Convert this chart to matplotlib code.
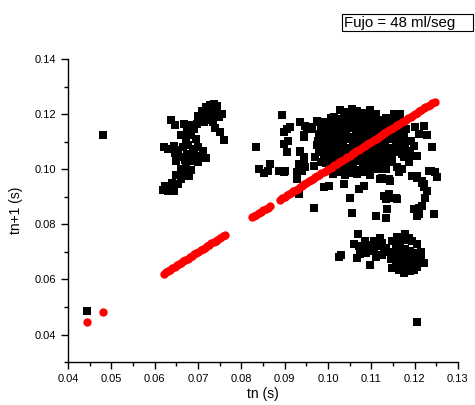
import matplotlib
matplotlib.use("Agg")
import matplotlib.pyplot as plt
from matplotlib.patches import Rectangle
from matplotlib.ticker import MultipleLocator, FormatStrFormatter

plt.rcParams['font.family'] = ['Liberation Sans', 'DejaVu Sans']

# return map: black squares = (tn, tn+1)
outlier_tn = [0.0481, 0.0445, 0.1206]
outlier_tn1 = [0.1126, 0.0484, 0.0447]

left_tn = [0.0700, 0.0710, 0.0718, 0.0728, 0.0738, 0.0745, 0.0735, 0.0722, 0.0712, 0.0730,
           0.0742, 0.0748, 0.0725, 0.0715, 0.0705, 0.0735, 0.0698, 0.0755, 0.0740, 0.0752,
           0.0760, 0.0637, 0.0648, 0.0668, 0.0680, 0.0690, 0.0675, 0.0660, 0.0685, 0.0695,
           0.0672, 0.0622, 0.0632, 0.0645, 0.0655, 0.0665, 0.0678, 0.0690, 0.0700, 0.0712,
           0.0688, 0.0675, 0.0660, 0.0648, 0.0670, 0.0695, 0.0705, 0.0718, 0.0685, 0.0700,
           0.0650, 0.0660, 0.0672, 0.0685, 0.0668, 0.0680, 0.0660, 0.0650, 0.0625, 0.0620,
           0.0632, 0.0645, 0.0640, 0.0655]
left_tn1 = [0.1195, 0.1210, 0.1225, 0.1232, 0.1238, 0.1228, 0.1215, 0.1205, 0.1190, 0.1195,
            0.1205, 0.1190, 0.1180, 0.1172, 0.1178, 0.1170, 0.1165, 0.1200, 0.1150, 0.1135,
            0.1108, 0.1180, 0.1160, 0.1165, 0.1160, 0.1145, 0.1140, 0.1125, 0.1125, 0.1110,
            0.1110, 0.1080, 0.1075, 0.1085, 0.1070, 0.1080, 0.1090, 0.1075, 0.1080, 0.1068,
            0.1060, 0.1055, 0.1045, 0.1060, 0.1035, 0.1045, 0.1050, 0.1040, 0.1030, 0.1025,
            0.1030, 0.1000, 0.1010, 0.0998, 0.0985, 0.0975, 0.0965, 0.0980, 0.0940, 0.0925,
            0.0920, 0.0920, 0.0950, 0.0948]

edge_tn = [0.0894, 0.0906, 0.0913, 0.0898, 0.0936, 0.0909, 0.0944, 0.0898, 0.0906, 0.0936,
           0.0944, 0.0894, 0.0902, 0.0929, 0.0940, 0.0929, 0.0933, 0.0967, 0.0990, 0.1002,
           0.1037, 0.1052, 0.1071, 0.1083, 0.1056, 0.1110, 0.1133, 0.1137, 0.1129, 0.1144,
           0.1160, 0.1121, 0.1137, 0.1144, 0.1202, 0.1210, 0.1206, 0.1244, 0.1206, 0.1218,
           0.1221, 0.1229, 0.1225, 0.1233, 0.1252, 0.1241, 0.1202, 0.1221, 0.1210, 0.1191,
           0.1198, 0.1183, 0.1175, 0.1191, 0.1164, 0.1160, 0.1167, 0.1152, 0.1056, 0.1098,
           0.1075, 0.1094, 0.1029, 0.1013, 0.1033, 0.0998, 0.0979, 0.0963, 0.0948, 0.0952,
           0.0944, 0.0963, 0.0975, 0.0936, 0.0944, 0.0933, 0.0948, 0.0971, 0.0967, 0.0983,
           0.0990, 0.1002, 0.0886, 0.0835, 0.0840, 0.0852, 0.0862, 0.0867, 0.0898, 0.1164,
           0.1229, 0.1179, 0.1190, 0.1206, 0.1171, 0.1187, 0.1140, 0.1148, 0.1164, 0.1133,
           0.1237, 0.1248, 0.1110, 0.1094, 0.1079, 0.1125, 0.1140, 0.1171, 0.1194, 0.1206,
           0.1218, 0.1221, 0.1140, 0.1156, 0.1133, 0.1198, 0.1218, 0.1210]
edge_tn1 = [0.1196, 0.1147, 0.1153, 0.1135, 0.1171, 0.1104, 0.1123, 0.1092, 0.1062, 0.1068,
            0.1031, 0.0995, 0.0995, 0.0989, 0.0995, 0.0965, 0.0910, 0.0861, 0.0934, 0.0940,
            0.0946, 0.0897, 0.0928, 0.0940, 0.0843, 0.0831, 0.0824, 0.0855, 0.0904, 0.0897,
            0.0892, 0.0965, 0.0965, 0.0958, 0.0855, 0.0861, 0.0831, 0.0837, 0.0977, 0.0958,
            0.0946, 0.0922, 0.0897, 0.0995, 0.0971, 0.1080, 0.1153, 0.1159, 0.1129, 0.1104,
            0.1086, 0.1062, 0.1043, 0.1050, 0.1068, 0.1007, 0.1202, 0.1202, 0.1220, 0.1214,
            0.1202, 0.1202, 0.1214, 0.1189, 0.1184, 0.1171, 0.1171, 0.1153, 0.1159, 0.1153,
            0.1116, 0.1147, 0.1177, 0.1062, 0.1043, 0.1019, 0.1007, 0.1043, 0.1013, 0.1025,
            0.1068, 0.1074, 0.0995, 0.1080, 0.1000, 0.0985, 0.0995, 0.1019, 0.0989, 0.1189,
            0.1123, 0.1092, 0.1068, 0.1050, 0.1056, 0.1025, 0.1050, 0.1025, 0.0989, 0.1001,
            0.0995, 0.0989, 0.1001, 0.1013, 0.0995, 0.0970, 0.0965, 0.1001, 0.0977, 0.0970,
            0.0952, 0.0934, 0.0910, 0.0897, 0.0892, 0.0855, 0.0867, 0.0837]

core_tn = [0.1040, 0.1055, 0.1068, 0.1082, 0.1096, 0.1110,
           0.1008, 0.1022, 0.1037, 0.1050, 0.1064, 0.1078, 0.1091, 0.1105, 0.1120, 0.1135, 0.1150,
           0.0990, 0.1004, 0.1018, 0.1032, 0.1046, 0.1060, 0.1073, 0.1087, 0.1101, 0.1115, 0.1130,
           0.1145, 0.1160, 0.1174,
           0.0985, 0.0999, 0.1013, 0.1027, 0.1041, 0.1055, 0.1069, 0.1083, 0.1097, 0.1111, 0.1125,
           0.1139, 0.1153, 0.1167, 0.1180,
           0.0980, 0.0994, 0.1008, 0.1022, 0.1036, 0.1050, 0.1064, 0.1078, 0.1092, 0.1106, 0.1120,
           0.1134, 0.1148, 0.1162, 0.1175,
           0.0978, 0.0992, 0.1006, 0.1020, 0.1034, 0.1048, 0.1062, 0.1076, 0.1090, 0.1104, 0.1118,
           0.1132, 0.1146, 0.1160, 0.1170,
           0.0975, 0.0989, 0.1003, 0.1017, 0.1031, 0.1045, 0.1059, 0.1073, 0.1087, 0.1101, 0.1115,
           0.1129, 0.1143, 0.1157, 0.1165,
           0.0980, 0.0994, 0.1008, 0.1022, 0.1036, 0.1050, 0.1064, 0.1078, 0.1092, 0.1106, 0.1120,
           0.1134, 0.1148, 0.1160,
           0.0990, 0.1004, 0.1018, 0.1032, 0.1046, 0.1060, 0.1074, 0.1088, 0.1102, 0.1116, 0.1130,
           0.1148,
           0.0996, 0.1010, 0.1024, 0.1038, 0.1052, 0.1066, 0.1080, 0.1094, 0.1108, 0.1122, 0.1135,
           0.1002, 0.1016, 0.1030, 0.1044, 0.1058, 0.1072, 0.1086, 0.1100, 0.1115,
           0.1012, 0.1026, 0.1040, 0.1054, 0.1068, 0.1082, 0.1096]
core_tn1 = [0.1208, 0.1201, 0.1210, 0.1203, 0.1206, 0.1199,
            0.1188, 0.1181, 0.1190, 0.1183, 0.1186, 0.1179, 0.1189, 0.1184, 0.1180, 0.1187, 0.1182,
            0.1168, 0.1161, 0.1170, 0.1163, 0.1166, 0.1159, 0.1169, 0.1164, 0.1160, 0.1167, 0.1162,
            0.1169, 0.1158, 0.1165,
            0.1142, 0.1149, 0.1141, 0.1147, 0.1144, 0.1150, 0.1140, 0.1146, 0.1143, 0.1148, 0.1139,
            0.1145, 0.1150, 0.1142, 0.1147,
            0.1128, 0.1121, 0.1130, 0.1123, 0.1126, 0.1119, 0.1129, 0.1124, 0.1120, 0.1127, 0.1122,
            0.1129, 0.1118, 0.1125, 0.1121,
            0.1102, 0.1109, 0.1101, 0.1107, 0.1104, 0.1110, 0.1100, 0.1106, 0.1103, 0.1108, 0.1099,
            0.1105, 0.1110, 0.1102, 0.1107,
            0.1088, 0.1081, 0.1090, 0.1083, 0.1086, 0.1079, 0.1089, 0.1084, 0.1080, 0.1087, 0.1082,
            0.1089, 0.1078, 0.1085, 0.1081,
            0.1062, 0.1069, 0.1061, 0.1067, 0.1064, 0.1070, 0.1060, 0.1066, 0.1063, 0.1068, 0.1059,
            0.1065, 0.1070, 0.1062,
            0.1048, 0.1041, 0.1050, 0.1043, 0.1046, 0.1039, 0.1049, 0.1044, 0.1040, 0.1047, 0.1042,
            0.1049,
            0.1022, 0.1029, 0.1021, 0.1027, 0.1024, 0.1030, 0.1020, 0.1026, 0.1023, 0.1028, 0.1019,
            0.1008, 0.1001, 0.1010, 0.1003, 0.1006, 0.0999, 0.1009, 0.1004, 0.1000,
            0.0982, 0.0989, 0.0981, 0.0987, 0.0984, 0.0990, 0.0980]

low_tn = [0.1025, 0.1030, 0.1069, 0.1060, 0.1071, 0.1079, 0.1087, 0.1075, 0.1068, 0.1098,
          0.1106, 0.1121, 0.1117, 0.1106, 0.1129, 0.1125, 0.1148, 0.1156, 0.1167, 0.1179,
          0.1187, 0.1206, 0.1148, 0.1175, 0.1198, 0.1214, 0.1221, 0.1140, 0.1152, 0.1165,
          0.1178, 0.1190, 0.1200, 0.1145, 0.1158, 0.1170, 0.1183, 0.1195, 0.1208, 0.1160,
          0.1172, 0.1185, 0.1198, 0.1180, 0.1190, 0.1165, 0.1205, 0.1135, 0.1125, 0.1112,
          0.1100, 0.1092, 0.1085, 0.1215, 0.1175, 0.1160, 0.1195]
low_tn1 = [0.0681, 0.0687, 0.0764, 0.0727, 0.0721, 0.0709, 0.0697, 0.0691, 0.0678, 0.0654,
           0.0739, 0.0752, 0.0721, 0.0703, 0.0703, 0.0733, 0.0739, 0.0715, 0.0727, 0.0764,
           0.0752, 0.0727, 0.0642, 0.0624, 0.0636, 0.0673, 0.0660, 0.0700, 0.0690, 0.0700,
           0.0712, 0.0705, 0.0695, 0.0675, 0.0668, 0.0680, 0.0688, 0.0678, 0.0685, 0.0650,
           0.0660, 0.0665, 0.0655, 0.0642, 0.0630, 0.0635, 0.0645, 0.0715, 0.0690, 0.0680,
           0.0710, 0.0725, 0.0740, 0.0700, 0.0745, 0.0755, 0.0740]

# red circles: (tn, tn)
red_tn = [0.0445, 0.0481,
          0.0621, 0.0626, 0.0631, 0.0636, 0.0641, 0.0646, 0.0651, 0.0656, 0.0661, 0.0666,
          0.0671, 0.0676, 0.0681, 0.0686, 0.0691, 0.0696, 0.0701, 0.0706, 0.0711, 0.0716,
          0.0721, 0.0726, 0.0731, 0.0736, 0.0741, 0.0745, 0.0752, 0.0757, 0.0763,
          0.0825, 0.0830, 0.0835, 0.0841, 0.0846, 0.0851, 0.0856, 0.0861, 0.0867,
          0.0890, 0.0894, 0.0901, 0.0905, 0.0911, 0.0915, 0.0920, 0.0926, 0.0930, 0.0935,
          0.0941, 0.0945, 0.0950, 0.0956, 0.0960, 0.0965, 0.0971, 0.0975, 0.0980, 0.0985,
          0.0991, 0.0995, 0.1000, 0.1006, 0.1010, 0.1015, 0.1021, 0.1025, 0.1030, 0.1035,
          0.1041, 0.1045, 0.1050, 0.1056, 0.1060, 0.1065, 0.1071, 0.1075, 0.1080, 0.1085,
          0.1091, 0.1095, 0.1100, 0.1106, 0.1110, 0.1115, 0.1121, 0.1125, 0.1130, 0.1135,
          0.1141, 0.1145, 0.1150, 0.1156, 0.1160, 0.1165, 0.1171, 0.1175, 0.1180, 0.1185,
          0.1191, 0.1195, 0.1200, 0.1206, 0.1210, 0.1215, 0.1221, 0.1225, 0.1230, 0.1235,
          0.1241, 0.1246]
red_tn1 = red_tn

black_tn = outlier_tn + left_tn + edge_tn + core_tn + low_tn
black_tn1 = outlier_tn1 + left_tn1 + edge_tn1 + core_tn1 + low_tn1

fig = plt.figure(figsize=(4.75, 4.05), dpi=100)
ax = fig.add_axes([0.143, 0.106, 0.821, 0.748])

ax.plot(black_tn, black_tn1, 's', color='black', markersize=5.5, markeredgewidth=0)
ax.plot(red_tn, red_tn1, 'o', color='red', markersize=6, markeredgewidth=0)

ax.set_xlim(0.04, 0.13)
ax.set_ylim(0.03, 0.14)
ax.xaxis.set_major_locator(MultipleLocator(0.01))
ax.xaxis.set_minor_locator(MultipleLocator(0.005))
ax.yaxis.set_minor_locator(MultipleLocator(0.01))
ax.xaxis.set_major_formatter(FormatStrFormatter('%.2f'))
ax.yaxis.set_major_formatter(FormatStrFormatter('%.2f'))
ax.set_yticks([0.04, 0.06, 0.08, 0.10, 0.12, 0.14])

for s in ['top', 'right']:
    ax.spines[s].set_visible(False)
for s in ['left', 'bottom']:
    ax.spines[s].set_linewidth(1.0)
ax.tick_params(which='major', direction='out', length=5, width=1, labelsize=8)
ax.tick_params(which='minor', direction='out', length=3, width=1)

ax.set_xlabel('tn (s)', fontsize=10, labelpad=2)
ax.set_ylabel('tn+1 (s)', fontsize=10, labelpad=8)

# label box in the top right corner
fig.patches.append(Rectangle((342 / 475, 1 - 31 / 405), 131 / 475, 17 / 405,
                             transform=fig.transFigure, fc='white', ec='black', lw=0.8))
fig.text(344 / 475, 1 - 22.5 / 405, 'Fujo = 48 ml/seg', fontsize=10.8, va='center', ha='left')

fig.savefig('out.png', dpi=100)
